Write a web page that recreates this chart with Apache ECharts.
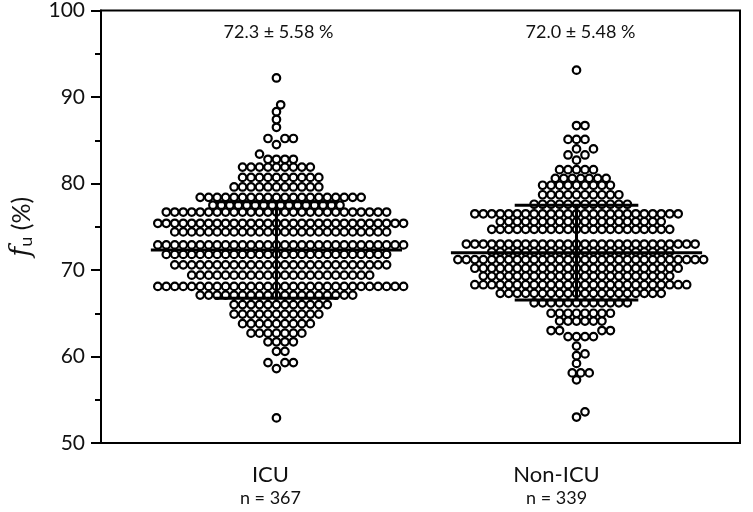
<!DOCTYPE html>
<html>
<head>
<meta charset="utf-8">
<script src="https://cdn.jsdelivr.net/npm/echarts@6/dist/echarts.min.js"></script>
<style>
  html, body { margin: 0; padding: 0; background: #fff; }
  #chart { width: 753px; height: 512px; }
</style>
</head>
<body>
<div id="chart"></div>
<script>
// groups and summary values
const groupNames = ['ICU', 'Non-ICU']
const groupN = [367, 339]
const groupMean = [72.3, 72.0]
const groupSD = [5.58, 5.48]

// swarm rows: [fu value, number of points in that row]
const icuRows = [
  [92.2, 1], [89.1, 1], [88.3, 1], [87.4, 1], [86.5, 1], [85.2, 3], [84.5, 1], [83.4, 1], [82.8, 4],
  [81.9, 9], [80.7, 10], [79.6, 11], [78.4, 20], [77.5, 16],
  [76.7, 27], [75.4, 30], [74.4, 26], [72.9, 30],
  [71.8, 27], [70.6, 26], [69.4, 22], [68.1, 30], [67.1, 19],
  [66.0, 12], [64.9, 11], [63.8, 9], [62.7, 7], [61.7, 4], [60.6, 2], [59.3, 3], [58.6, 1], [52.9, 1]
]
const nonIcuRows = [
  [93.1, 1], [86.7, 2], [85.1, 3], [84.0, 2], [83.3, 2], [82.7, 1],
  [81.6, 5], [80.6, 7], [79.8, 9], [78.7, 10], [77.6, 12],
  [76.5, 25], [75.6, 20], [74.7, 22], [73.0, 28], [72.1, 22],
  [71.2, 30], [70.2, 25], [69.3, 23], [68.3, 26], [67.3, 20],
  [66.2, 12], [65.0, 8], [64.1, 6], [63.0, 4], [62.3, 4],
  [61.2, 1], [60.3, 1], [60.1, 1], [59.2, 1], [58.1, 3], [57.3, 1], [53.6, 1], [53.0, 1]
]

const Y_MIN = 50
const Y_MAX = 100
const GRID = { left: 99, right: 13, top: 7, bottom: 69 }
const PLOT_W = 753 - GRID.left - GRID.right
const PX_PER_UNIT = (512 - GRID.top - GRID.bottom) / (Y_MAX - Y_MIN)

// x axis runs in pixels across the plot
const columnX = [176, 477]
const categoryLabelX = [170, 457]
const statLabelX = [178, 481]
const STEP = 4.25
const MIN_D = 7.5
const FONT = 'Lato, "Open Sans", sans-serif'

// simple beeswarm: nearest free offset to the column centre
function swarm(rows, cx) {
  const values = []
  rows.forEach(([v, n]) => {
    for (let i = 0; i < n; i++) values.push(v)
  })
  values.sort((a, b) => a - b)
  const placed = []
  const out = []
  values.forEach(v => {
    const y = v * PX_PER_UNIT
    for (let k = 0; k < 200; k++) {
      const cands = k === 0 ? [0] : [k * STEP, -k * STEP]
      const dx = cands.find(c => !placed.some(p => (p.x - c) ** 2 + (p.y - y) ** 2 < MIN_D * MIN_D))
      if (dx !== undefined) {
        placed.push({ x: dx, y })
        out.push([cx + dx, v])
        return
      }
    }
  })
  return out
}

const statData = groupNames.map((name, i) => [columnX[i], groupMean[i], groupSD[i]])

const chart = echarts.init(document.getElementById('chart'))

const dotStyle = {
  type: 'scatter',
  symbol: 'circle',
  symbolSize: 7.5,
  itemStyle: { color: '#fff', borderColor: '#000', borderWidth: 2.2, opacity: 1 },
  silent: true,
  z: 2
}

chart.setOption({
  animation: false,
  grid: {
    left: GRID.left, right: GRID.right, top: GRID.top, bottom: GRID.bottom,
    show: true, borderColor: '#000', borderWidth: 2, backgroundColor: 'transparent'
  },
  xAxis: [
    {
      type: 'value',
      min: 0,
      max: PLOT_W,
      axisLine: { show: true, lineStyle: { color: '#000', width: 2 } },
      axisTick: { show: false },
      splitLine: { show: false },
      axisLabel: {
        customValues: categoryLabelX,
        margin: 19,
        formatter: v => {
          const i = categoryLabelX.indexOf(v)
          return i < 0 ? '' : `{a|${groupNames[i]}}\n{b|n = ${groupN[i]}}`
        },
        rich: {
          a: { fontFamily: FONT, fontSize: 22, lineHeight: 25, color: '#111' },
          b: { fontFamily: FONT, fontSize: 18, lineHeight: 22, color: '#111' }
        }
      }
    },
    {
      type: 'value',
      position: 'top',
      min: 0,
      max: PLOT_W,
      axisLine: { show: false },
      axisTick: { show: false },
      splitLine: { show: false },
      axisLabel: {
        inside: true,
        margin: 13,
        customValues: statLabelX,
        fontFamily: FONT,
        fontSize: 18,
        color: '#111',
        formatter: v => {
          const i = statLabelX.indexOf(v)
          return i < 0 ? '' : `${groupMean[i].toFixed(1)} ± ${groupSD[i].toFixed(2)} %`
        }
      }
    }
  ],
  yAxis: {
    type: 'value',
    min: Y_MIN,
    max: Y_MAX,
    interval: 10,
    name: '{i|f}{s|u} (%)',
    nameLocation: 'middle',
    nameGap: 66,
    nameRotate: 90,
    nameTextStyle: {
      fontFamily: FONT,
      fontSize: 25,
      color: '#111',
      rich: {
        i: { fontFamily: '"DejaVu Serif", serif', fontStyle: 'italic', fontSize: 27, color: '#111' },
        s: { fontFamily: FONT, fontSize: 18, color: '#111', verticalAlign: 'bottom' }
      }
    },
    axisLine: { show: true, lineStyle: { color: '#000', width: 2 } },
    axisTick: { show: true, length: 10, lineStyle: { color: '#000', width: 2 } },
    minorTick: { show: true, splitNumber: 2, length: 6, lineStyle: { color: '#000', width: 2 } },
    splitLine: { show: false },
    axisLabel: { margin: 16, fontFamily: FONT, fontSize: 21, color: '#111' }
  },
  series: [
    { ...dotStyle, name: groupNames[0], data: swarm(icuRows, columnX[0]) },
    { ...dotStyle, name: groupNames[1], data: swarm(nonIcuRows, columnX[1]) },
    {
      type: 'custom',
      silent: true,
      z: 5,
      data: statData,
      renderItem: (params, api) => {
        const cx = api.value(0)
        const m = api.value(1)
        const sd = api.value(2)
        const seg = (x1, y1, x2, y2) => {
          const a = api.coord([x1, y1])
          const b = api.coord([x2, y2])
          return {
            type: 'line',
            shape: { x1: a[0], y1: a[1], x2: b[0], y2: b[1] },
            style: { stroke: '#000', lineWidth: 3 }
          }
        }
        return {
          type: 'group',
          children: [
            seg(cx - 126, m, cx + 126, m),
            seg(cx - 62, m + sd, cx + 62, m + sd),
            seg(cx - 62, m - sd, cx + 62, m - sd),
            seg(cx, m - sd, cx, m + sd)
          ]
        }
      }
    }
  ]
})
</script>
</body>
</html>
